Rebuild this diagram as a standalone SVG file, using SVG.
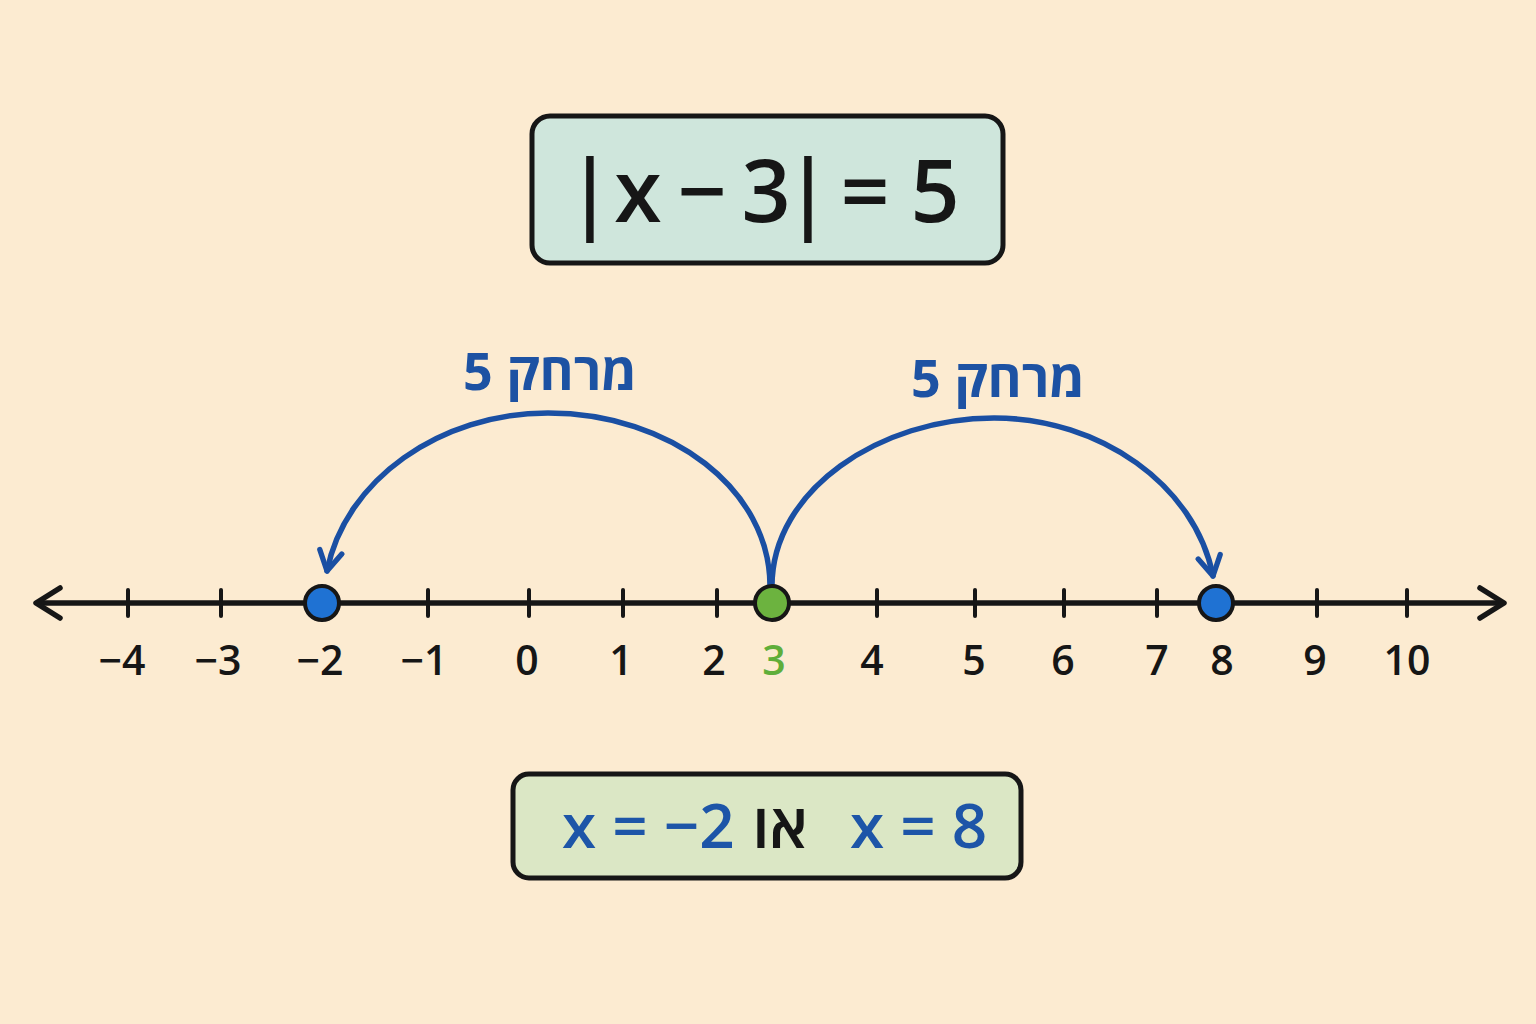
<svg xmlns="http://www.w3.org/2000/svg" width="1536" height="1024" viewBox="0 0 1536 1024">
<defs>
<style>
.bg{fill:#fcebd1}
.box{stroke:#161616;stroke-width:5}
.eq{font-family:"Open Sans","DejaVu Sans",sans-serif;font-size:86px;font-weight:600;fill:#161616}
.dist{font-family:"Open Sans","DejaVu Sans",sans-serif;font-size:52px;font-weight:700;fill:#1d52a3}
.tick{stroke:#161616;stroke-width:4;stroke-linecap:round}
.axis{stroke:#161616;stroke-width:5.5;fill:none;stroke-linecap:round;stroke-linejoin:round}
.num{font-family:"Open Sans","DejaVu Sans",sans-serif;font-size:41px;font-weight:600;fill:#161616;text-anchor:middle}
.arc{fill:none;stroke:#1a4fa3;stroke-width:5.5;stroke-linecap:round}
.pt{stroke:#161616;stroke-width:4}
.sol{font-family:"Open Sans","DejaVu Sans",sans-serif;font-size:62px;font-weight:600}
</style>
<marker id="ah" viewBox="0 0 20 20" refX="17" refY="10" markerWidth="28" markerHeight="28" orient="auto" markerUnits="userSpaceOnUse">
<path d="M3,2 L17,10 L3,18" fill="none" stroke="#1a4fa3" stroke-width="3.8" stroke-linecap="round" stroke-linejoin="round"/>
</marker>
</defs>
<rect class="bg" x="0" y="0" width="1536" height="1024"/>

<g id="equation-box">
<rect class="box" x="532" y="116" width="471" height="147" rx="18" fill="#cfe6dc"/>
<text class="eq" x="590 638 660 702 724 766 808 826 865 890 935" y="222" text-anchor="middle">|x − 3| = 5</text>
</g>

<g id="number-line">
<line class="axis" x1="38" y1="603" x2="1502" y2="603"/>
<polyline class="axis" points="60,588 36,603 60,618" stroke-width="6.5"/>
<polyline class="axis" points="1480,588 1504,603 1480,618" stroke-width="6.5"/>
<g>
<line class="tick" x1="128" y1="590" x2="128" y2="616"/>
<line class="tick" x1="221" y1="590" x2="221" y2="616"/>
<line class="tick" x1="428" y1="590" x2="428" y2="616"/>
<line class="tick" x1="529" y1="590" x2="529" y2="616"/>
<line class="tick" x1="623" y1="590" x2="623" y2="616"/>
<line class="tick" x1="717" y1="590" x2="717" y2="616"/>
<line class="tick" x1="877" y1="590" x2="877" y2="616"/>
<line class="tick" x1="975" y1="590" x2="975" y2="616"/>
<line class="tick" x1="1064" y1="590" x2="1064" y2="616"/>
<line class="tick" x1="1157" y1="590" x2="1157" y2="616"/>
<line class="tick" x1="1317" y1="590" x2="1317" y2="616"/>
<line class="tick" x1="1407" y1="590" x2="1407" y2="616"/>
</g>
<g>
<text class="num" x="122" y="675">−4</text>
<text class="num" x="218" y="675">−3</text>
<text class="num" x="320" y="675">−2</text>
<text class="num" x="424" y="675">−1</text>
<text class="num" x="527" y="675">0</text>
<text class="num" x="621" y="675">1</text>
<text class="num" x="714" y="675">2</text>
<text class="num" x="774" y="675" style="fill:#5fae3a">3</text>
<text class="num" x="872" y="675">4</text>
<text class="num" x="974" y="675">5</text>
<text class="num" x="1063" y="675">6</text>
<text class="num" x="1157" y="675">7</text>
<text class="num" x="1222" y="675">8</text>
<text class="num" x="1315" y="675">9</text>
<text class="num" x="1407" y="675">10</text>
</g>
</g>

<g id="connectors">
<path class="arc" d="M770,586 C770,490 671,413 548,413 C440,413 345,480 327,571" marker-end="url(#ah)"/>
<path class="arc" d="M772,586 C772,490 880,418 994,418 C1100,418 1195,485 1213,576" marker-end="url(#ah)"/>
</g>

<g id="label-left">
<text class="dist" x="550" y="390" text-anchor="middle" direction="rtl">מרחק 5</text>
</g>
<g id="label-right">
<text class="dist" x="998" y="397" text-anchor="middle" direction="rtl">מרחק 5</text>
</g>

<g id="point-neg2"><circle class="pt" cx="322" cy="603" r="17" fill="#1f72d3"/></g>
<g id="point-3"><circle class="pt" cx="772" cy="603" r="17" fill="#6cb33f"/></g>
<g id="point-8"><circle class="pt" cx="1216" cy="603" r="17" fill="#1f72d3"/></g>

<g id="solution-box">
<rect class="box" x="513" y="774" width="508" height="104" rx="16" fill="#dbe7c5"/>
<text class="sol" x="562" y="848" fill="#1d55a8">x = −2</text>
<text class="sol" x="780" y="848" fill="#161616" text-anchor="middle">או</text>
<text class="sol" x="850" y="848" fill="#1d55a8">x = 8</text>
</g>
</svg>
